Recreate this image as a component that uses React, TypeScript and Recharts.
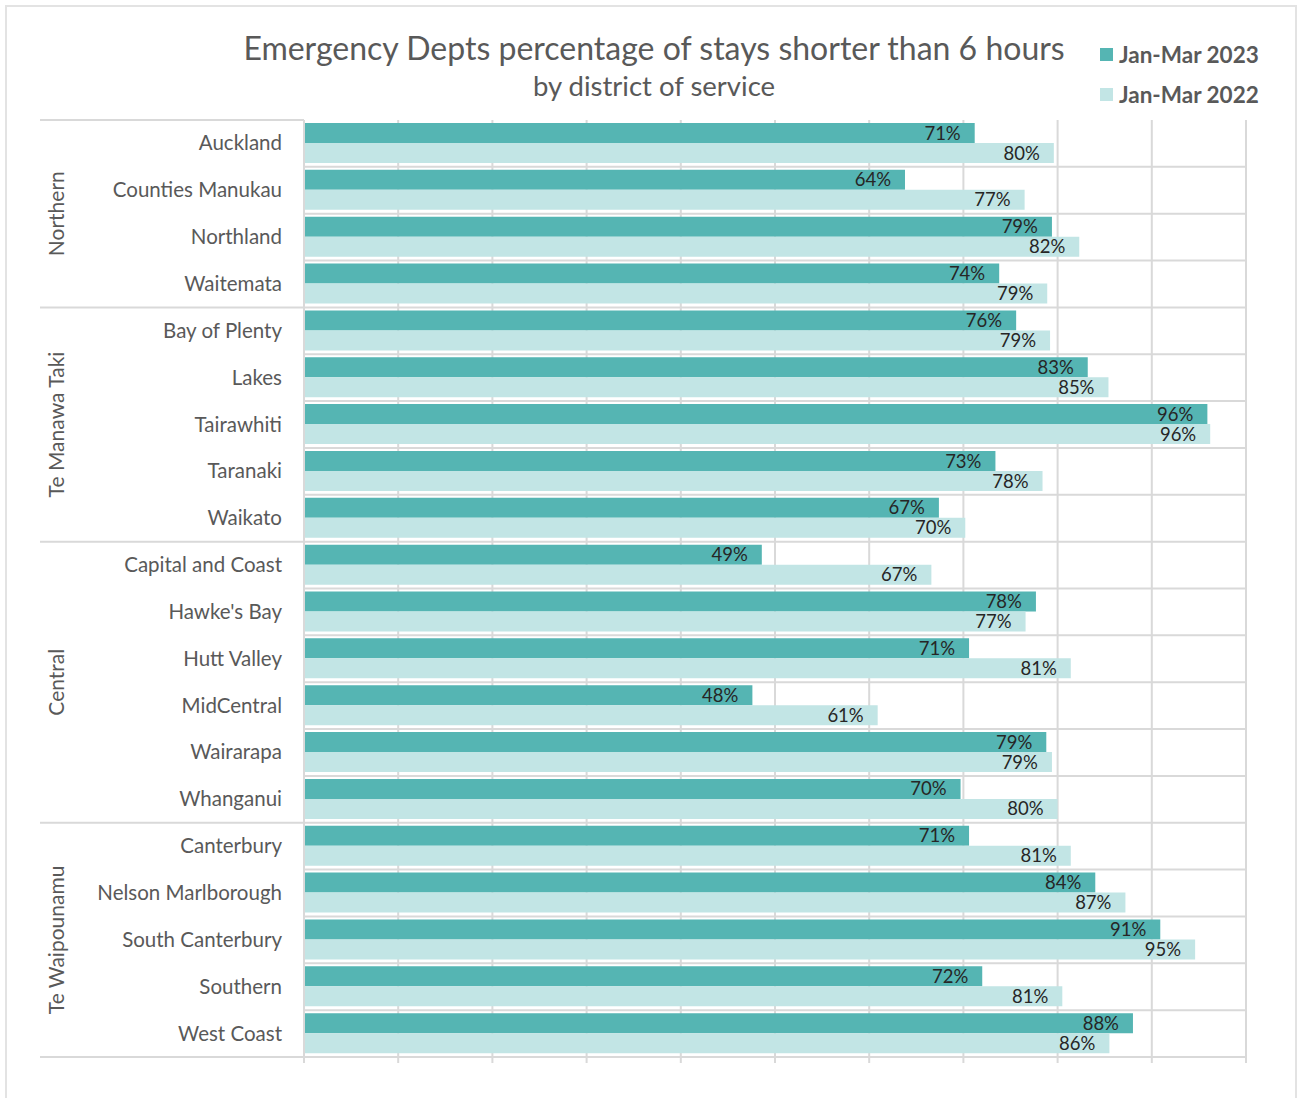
import React from "react";
import {
  BarChart,
  Bar,
  XAxis,
  YAxis,
  CartesianGrid,
  Legend,
  LabelList,
} from "recharts";

const districts = [
  "Auckland", "Counties Manukau", "Northland", "Waitemata",
  "Bay of Plenty", "Lakes", "Tairawhiti", "Taranaki", "Waikato",
  "Capital and Coast", "Hawke's Bay", "Hutt Valley", "MidCentral", "Wairarapa", "Whanganui",
  "Canterbury", "Nelson Marlborough", "South Canterbury", "Southern", "West Coast",
];

const regions = ["Northern", "Te Manawa Taki", "Central", "Te Waipounamu"];
const regionSizes = [4, 5, 6, 5];

const jan2023 = [
  71.2, 63.8, 79.4, 73.8,
  75.6, 83.2, 95.9, 73.4, 67.4,
  48.6, 77.7, 70.6, 47.6, 78.8, 69.7,
  70.6, 84.0, 90.9, 72.0, 88.0,
];

const jan2022 = [
  79.6, 76.5, 82.3, 78.9,
  79.2, 85.4, 96.2, 78.4, 70.2,
  66.6, 76.6, 81.4, 60.9, 79.4, 80.0,
  81.4, 87.2, 94.6, 80.5, 85.5,
];

const xTicks = [0, 10, 20, 30, 40, 50, 60, 70, 80, 90, 100];

const C2023 = "#55b5b3";
const C2022 = "#c2e5e5";
const GRID = "#d9d9d9";
const TEXT = "#595959";
const FONT = "Lato, 'Open Sans', sans-serif";

const W = 1300;
const H = 1098;
const M = { top: 120, right: 54, bottom: 31, left: 0 };
const Y_W = 304;
const X_H = 10;
const PLOT_H = H - M.top - M.bottom - X_H;
const BAND = PLOT_H / districts.length;

const data = districts.map((d, i) => ({
  district: d,
  y2023: jan2023[i],
  y2022: jan2022[i],
}));

// first index of each region
const regionStart: number[] = [];
regionSizes.reduce((acc, n) => {
  regionStart.push(acc);
  return acc + n;
}, 0);

function DistrictTick(props: any) {
  const { x, y, payload, index } = props;
  const r = regionStart.indexOf(index);
  const top = y - BAND / 2;
  return (
    <g>
      <text
        x={x}
        y={y}
        dy={7}
        textAnchor="end"
        fill={TEXT}
        fontSize={20.5}
        fontFamily={FONT}
      >
        {payload.value}
      </text>
      {r >= 0 && (
        <>
          <line x1={40} x2={Y_W} y1={top} y2={top} stroke={GRID} strokeWidth={2} />
          <text
            transform={`translate(64, ${top + (regionSizes[r] * BAND) / 2}) rotate(-90)`}
            textAnchor="middle"
            fill={TEXT}
            fontSize={21}
            fontFamily={FONT}
          >
            {regions[r]}
          </text>
        </>
      )}
      {index === districts.length - 1 && (
        <line x1={40} x2={Y_W} y1={y + BAND / 2} y2={y + BAND / 2} stroke={GRID} strokeWidth={2} />
      )}
    </g>
  );
}

const EmptyTick = () => <g />;

function LegendContent() {
  const items = [
    { label: "Jan-Mar 2023", color: C2023 },
    { label: "Jan-Mar 2022", color: C2022 },
  ];
  return (
    <div style={{ fontFamily: FONT }}>
      {items.map((it) => (
        <div
          key={it.label}
          style={{ display: "flex", alignItems: "center", height: 40 }}
        >
          <span
            style={{
              width: 13,
              height: 13,
              background: it.color,
              display: "inline-block",
              marginRight: 6,
            }}
          />
          <span style={{ color: TEXT, fontSize: 22.5, fontWeight: 700 }}>{it.label}</span>
        </div>
      ))}
    </div>
  );
}

export default function App() {
  return (
    <div
      style={{
        position: "absolute",
        left: 0,
        top: 0,
        width: W,
        height: H,
        background: "#fff",
        overflow: "hidden",
      }}
    >
      <div
        style={{
          position: "absolute",
          left: 5,
          top: 5,
          width: W - 8,
          height: H,
          borderTop: "2px solid #e3e3e3",
          borderLeft: "2px solid #e3e3e3",
          borderRight: "2px solid #e3e3e3",
          boxSizing: "border-box",
        }}
      />
      <div
        style={{
          position: "absolute",
          left: 0,
          width: 1308,
          top: 27,
          textAlign: "center",
          fontFamily: FONT,
          color: TEXT,
        }}
      >
        <div style={{ fontSize: 32, lineHeight: "42px" }}>
          Emergency Depts percentage of stays shorter than 6 hours
        </div>
        <div style={{ fontSize: 27.5, lineHeight: "34px" }}>by district of service</div>
      </div>
      <BarChart
        width={W}
        height={H}
        data={data}
        layout="vertical"
        margin={M}
        barCategoryGap={3}
        barGap={0}
        style={{ position: "absolute", left: 0, top: 0 }}
      >
        <CartesianGrid
          stroke={GRID}
          strokeWidth={2}
          horizontalCoordinatesGenerator={({ offset }: any) =>
            districts.map((_, i) => offset.top + ((i + 1) * offset.height) / districts.length)
          }
        />
        <XAxis
          type="number"
          domain={[0, 100]}
          ticks={xTicks}
          interval={0}
          height={X_H}
          tick={<EmptyTick />}
          tickSize={6}
          axisLine={{ stroke: GRID, strokeWidth: 2 }}
          tickLine={{ stroke: GRID, strokeWidth: 2 }}
        />
        <YAxis
          type="category"
          dataKey="district"
          width={Y_W}
          interval={0}
          tickSize={0}
          tickMargin={22}
          tickLine={false}
          axisLine={{ stroke: GRID, strokeWidth: 2 }}
          tick={<DistrictTick />}
        />
        <Legend
          layout="horizontal"
          align="center"
          verticalAlign="middle"
          wrapperStyle={{ left: 1100, top: 34, width: 200, height: 80 }}
          content={<LegendContent />}
        />
        <Bar dataKey="y2023" name="Jan-Mar 2023" fill={C2023} isAnimationActive={false}>
          <LabelList
            dataKey="y2023"
            position="insideRight"
            offset={14}
            fill="#262626"
            fontSize={18.5}
            fontFamily={FONT}
            formatter={(v: any) => `${Math.round(Number(v))}%`}
          />
        </Bar>
        <Bar dataKey="y2022" name="Jan-Mar 2022" fill={C2022} isAnimationActive={false}>
          <LabelList
            dataKey="y2022"
            position="insideRight"
            offset={14}
            fill="#262626"
            fontSize={18.5}
            fontFamily={FONT}
            formatter={(v: any) => `${Math.round(Number(v))}%`}
          />
        </Bar>
      </BarChart>
    </div>
  );
}
